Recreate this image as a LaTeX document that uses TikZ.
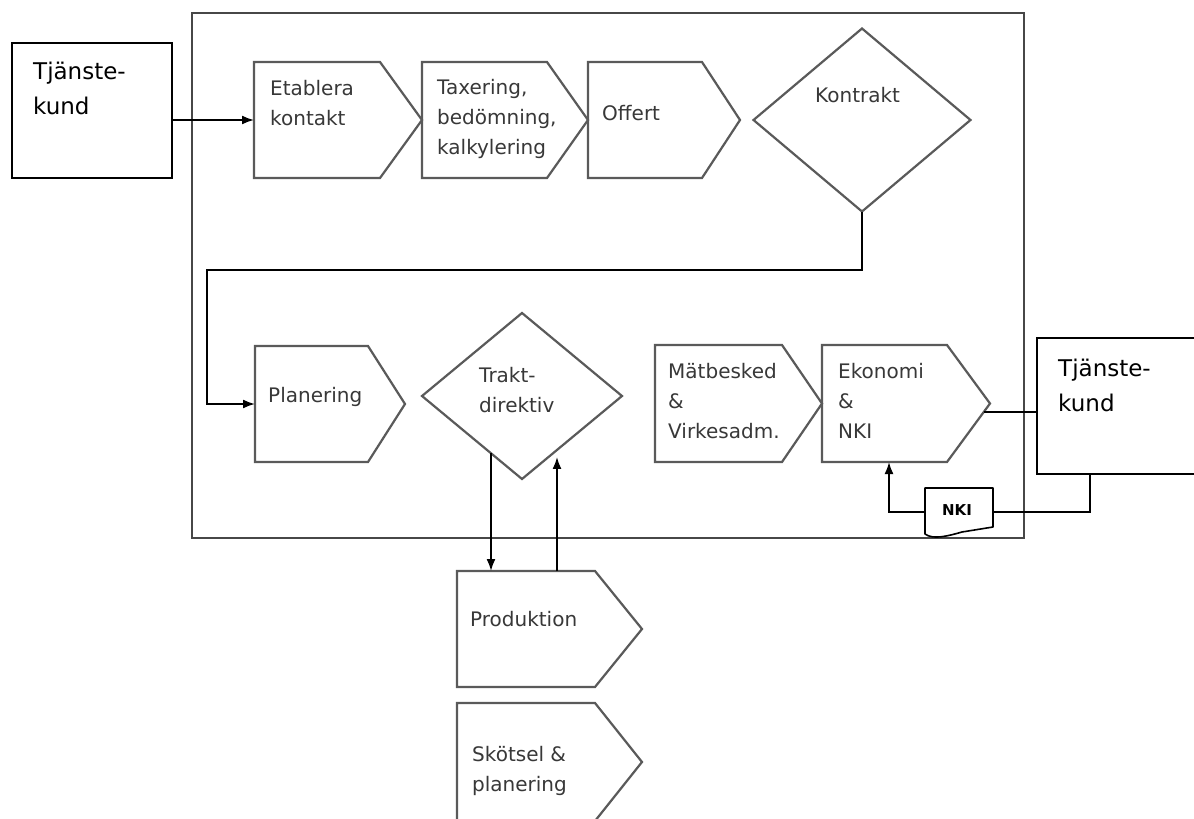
\documentclass[tikz,border=0pt]{standalone}
\usepackage{fontspec}
\setmainfont{DejaVu Sans}
\usetikzlibrary{shapes.geometric,arrows.meta,calc}

\definecolor{edge}{HTML}{5A5A5A}
\definecolor{ink}{HTML}{383838}
\definecolor{framec}{HTML}{474747}

\tikzset{
  shapeline/.style={draw=edge, line width=2.2pt, line join=miter},
  pentbox/.style={rectangle, draw=none, anchor=north west, inner sep=0pt, outer sep=0pt},
  decision/.style={diamond, draw=edge, line width=2.2pt, inner sep=0pt, outer sep=0pt},
  % multi-line texts are anchored at the baseline of their last line
  boxtext/.style={anchor=base west, inner sep=0pt, align=left, text=ink,
                  font=\fontsize{20}{30}\selectfont},
  custtext/.style={anchor=base west, inner sep=0pt, align=left, text=black,
                   font=\fontsize{23}{35}\selectfont},
  custbox/.style={rectangle, draw=black, line width=1.8pt, anchor=north west,
                  inner sep=0pt, outer sep=0pt},
  link/.style={draw=black, line width=1.8pt},
  arr/.style={link, -{Latex[length=12pt,width=9pt]}},
  docline/.style={draw=black, line width=1.6pt, line join=round},
}

% pentagon process step: name, x, y, body width, full width, height
\newcommand\processstep[6]{%
  \node[pentbox, minimum width=#5pt, minimum height=#6pt] (#1) at (#2,#3) {};
  \draw[shapeline] (#1.north west) -- ([xshift=#4pt]#1.north west) -- (#1.east)
    -- ([xshift=#4pt]#1.south west) -- (#1.south west) -- cycle;
}

\begin{document}
\begin{tikzpicture}[x=1pt,y=-1pt]
\useasboundingbox (0,0) rectangle (1194,819);
\fill[white] (0,0) rectangle (1194,819);

% organisation frame
\node[rectangle, draw=framec, line width=2.4pt, anchor=north west, inner sep=0pt,
      minimum width=832pt, minimum height=525pt] (frame) at (191,12) {};

% upper row
\processstep{etab}{254}{62}{126}{168}{116}
\node[boxtext] (etabT) at (270,125) {Etablera\\kontakt};
\processstep{tax}{422}{62}{125}{166}{116}
\node[boxtext] (taxT) at (437,154) {Taxering,\\bedömning,\\kalkylering};
\processstep{off}{588}{62}{114}{152}{116}
\node[boxtext] (offT) at (602,120) {Offert};
\node[decision, minimum width=217pt, minimum height=183pt] (kontrakt) at (862,120) {};
\node[boxtext] (kontraktT) at (815,102) {Kontrakt};

% middle row
\processstep{plan}{255}{346}{113}{150}{116}
\node[boxtext] (planT) at (268,402) {Planering};
\node[decision, minimum width=200pt, minimum height=166pt] (trakt) at (522,396) {};
\node[boxtext] (traktT) at (479,412) {Trakt-\\direktiv};
\processstep{mat}{655}{345}{127}{167}{117}
\node[boxtext] (matT) at (668,438) {Mätbesked\\\&\\Virkesadm.};
\processstep{ekon}{822}{345}{125}{168}{117}
\node[boxtext] (ekonT) at (838,438) {Ekonomi\\\&\\NKI};

% lower steps
\processstep{prod}{457}{571}{138}{185}{116}
\node[boxtext] (prodT) at (470,626) {Produktion};
\processstep{skot}{457}{703}{138}{185}{118}
\node[boxtext] (skotT) at (472,791) {Skötsel \&\\planering};

% customers
\node[custbox, minimum width=160pt, minimum height=135pt] (tkL) at (12,43) {};
\node[custtext] (tkLT) at (33,114) {Tjänste-\\kund};
\node[custbox, minimum width=200pt, minimum height=136pt] (tkR) at (1037,338) {};
\node[custtext] (tkRT) at (1058,411) {Tjänste-\\kund};

% NKI document
\node[pentbox, minimum width=68pt, minimum height=48pt] (nki) at (925,488) {};
\draw[docline, fill=white] (925,488) -- (993,488) -- (993,527) -- (962,532)
  .. controls (948,536) and (933,540) .. (925,534) -- cycle;
\node[inner sep=0pt, font=\bfseries\fontsize{15}{18}\selectfont] (nkiT) at (957,510) {NKI};

% connectors
\draw[arr] (tkL.east |- etab.west) -- (etab.west);

\coordinate (loop) at (207,270);
\draw[arr] (kontrakt.south) |- (loop) |- (plan.west);

\coordinate (tdown) at ($(trakt.west)!0.69!(trakt.south)$);
\coordinate (tup) at ($(trakt.south)!0.35!(trakt.east)$);
\draw[arr] (tdown) -- (tdown |- prod.north);
\draw[arr] (tup |- prod.north) -- ([yshift=-7pt]tup);

% leaves the lower slant of the Ekonomi step
\coordinate (ekonOut) at ($(ekon.east)!0.15!([xshift=125pt]ekon.south west)$);
\draw[link] (ekonOut) -- (ekonOut -| tkR.west);

\coordinate (tkRdrop) at (1090,0);
\draw[link] (tkRdrop |- tkR.south) |- (nki.east);
\coordinate (ekonIn) at (889,0);
\draw[arr] (nki.west) -| (ekonIn |- ekon.south);
\end{tikzpicture}
\end{document}
